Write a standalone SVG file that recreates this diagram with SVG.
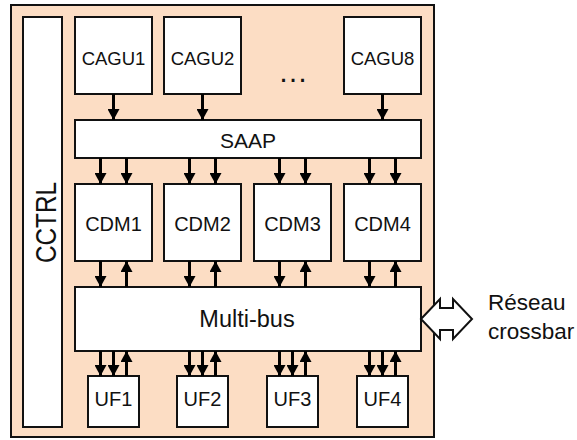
<svg xmlns="http://www.w3.org/2000/svg" width="577" height="440" viewBox="0 0 577 440">
<defs>
<style>
.box{fill:#fff;stroke:#111;stroke-width:2}
.lbl{font-family:"Liberation Sans",Arial,sans-serif;fill:#111;text-anchor:middle}
.ar{stroke:#000;stroke-width:3;fill:none;marker-end:url(#ah)}
</style>
<marker id="ah" viewBox="0 0 11 12" refX="11" refY="6" markerWidth="11" markerHeight="12" markerUnits="userSpaceOnUse" orient="auto">
<path d="M0,0 L11,6 L0,12 Z" fill="#000"/>
</marker>
</defs>
<rect width="577" height="440" fill="#fff"/>
<g id="chip">
<rect x="11" y="5" width="423" height="432" fill="#FCDDC4" stroke="#111" stroke-width="2"/>
</g>
<g id="cctrl">
<rect class="box" x="23" y="17" width="39" height="410"/>
<text class="lbl" transform="translate(55.5,222.5) rotate(-90)" font-size="29" textLength="81" lengthAdjust="spacingAndGlyphs">CCTRL</text>
</g>
<g id="cagu1"><rect class="box" x="75" y="17" width="77" height="77"/><text class="lbl" x="113.5" y="65" font-size="18.5">CAGU1</text></g>
<g id="cagu2"><rect class="box" x="164" y="17" width="77" height="77"/><text class="lbl" x="202.5" y="65" font-size="18.5">CAGU2</text></g>
<g id="dots"><text class="lbl" x="293" y="82" font-size="30">…</text></g>
<g id="cagu8"><rect class="box" x="344" y="17" width="77" height="77"/><text class="lbl" x="382.5" y="65" font-size="18.5">CAGU8</text></g>
<g id="saap"><rect class="box" x="75" y="120" width="346" height="38"/><text class="lbl" x="248" y="148" font-size="21">SAAP</text></g>
<g id="cdm1"><rect class="box" x="75" y="184" width="77" height="77"/><text class="lbl" x="113.5" y="231" font-size="20">CDM1</text></g>
<g id="cdm2"><rect class="box" x="164" y="184" width="77" height="77"/><text class="lbl" x="202.5" y="231" font-size="20">CDM2</text></g>
<g id="cdm3"><rect class="box" x="254" y="184" width="77" height="77"/><text class="lbl" x="292.5" y="231" font-size="20">CDM3</text></g>
<g id="cdm4"><rect class="box" x="344" y="184" width="77" height="77"/><text class="lbl" x="382.5" y="231" font-size="20">CDM4</text></g>
<g id="multibus"><rect class="box" x="75" y="287" width="346" height="64"/><text class="lbl" x="247" y="327" font-size="23.5">Multi-bus</text></g>
<g id="uf1"><rect class="box" x="88" y="376" width="51" height="51"/><text class="lbl" x="113.5" y="406" font-size="20">UF1</text></g>
<g id="uf2"><rect class="box" x="177" y="376" width="51" height="51"/><text class="lbl" x="202.5" y="406" font-size="20">UF2</text></g>
<g id="uf3"><rect class="box" x="267" y="376" width="51" height="51"/><text class="lbl" x="292.5" y="406" font-size="20">UF3</text></g>
<g id="uf4"><rect class="box" x="357" y="376" width="51" height="51"/><text class="lbl" x="382.5" y="406" font-size="20">UF4</text></g>
<g id="reseau">
<text class="lbl" x="488" y="310" font-size="22.5" style="text-anchor:start">Réseau</text>
<text class="lbl" x="488" y="339" font-size="22.5" style="text-anchor:start">crossbar</text>
</g>
<g id="connectors">
<path class="ar" d="M113.5,94 V120"/>
<path class="ar" d="M202.5,94 V120"/>
<path class="ar" d="M382.5,94 V120"/>
<path class="ar" d="M100.5,158 V184"/><path class="ar" d="M126.5,158 V184"/>
<path class="ar" d="M189.5,158 V184"/><path class="ar" d="M215.5,158 V184"/>
<path class="ar" d="M279.5,158 V184"/><path class="ar" d="M305.5,158 V184"/>
<path class="ar" d="M369.5,158 V184"/><path class="ar" d="M395.5,158 V184"/>
<path class="ar" d="M100.5,261 V287"/><path class="ar" d="M126.5,287 V261"/>
<path class="ar" d="M189.5,261 V287"/><path class="ar" d="M215.5,287 V261"/>
<path class="ar" d="M279.5,261 V287"/><path class="ar" d="M305.5,287 V261"/>
<path class="ar" d="M369.5,261 V287"/><path class="ar" d="M395.5,287 V261"/>
<path class="ar" d="M100.5,351 V376"/><path class="ar" d="M113.5,351 V376"/><path class="ar" d="M126.5,376 V351"/>
<path class="ar" d="M189.5,351 V376"/><path class="ar" d="M202.5,351 V376"/><path class="ar" d="M215.5,376 V351"/>
<path class="ar" d="M279.5,351 V376"/><path class="ar" d="M292.5,351 V376"/><path class="ar" d="M305.5,376 V351"/>
<path class="ar" d="M369.5,351 V376"/><path class="ar" d="M382.5,351 V376"/><path class="ar" d="M395.5,376 V351"/>
<path d="M421,319 L440,299 V308 H453 V299 L472,319 L453,339 V330 H440 V339 Z" fill="#fff" stroke="#111" stroke-width="2" stroke-linejoin="miter"/>
</g>
</svg>
